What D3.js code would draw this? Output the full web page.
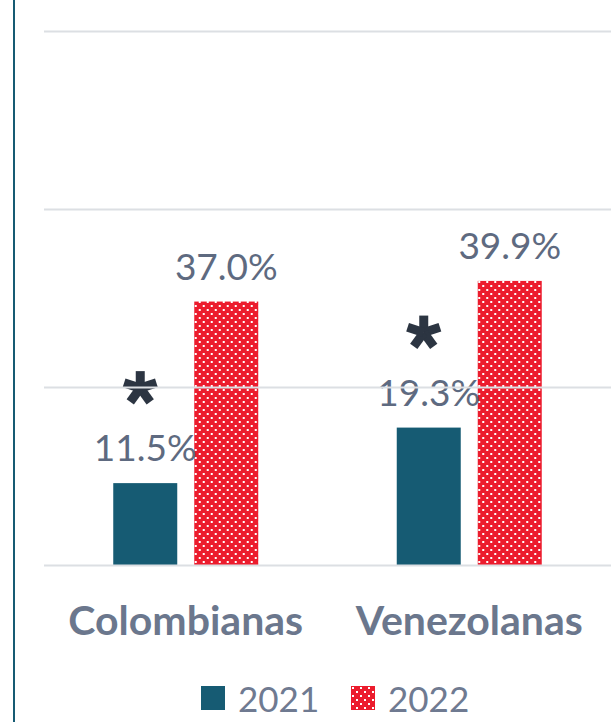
<!DOCTYPE html>
<head>
  <meta charset="utf-8">
  <script src="https://cdn.jsdelivr.net/npm/d3@7"></script>
  <style>
    body { margin: 0; background: #fff; }
    text { font-family: Lato, "Noto Sans", sans-serif; }
  </style>
</head>
<body>
  <script>
    var categories = ["Colombianas", "Venezolanas"];
    var years = ["2021", "2022"];
    var values2021 = [11.5, 19.3];
    var values2022 = [37.0, 39.9];
    var starred = [true, true]; // significance mark over 2021
    var gridTicks = [0, 25, 50, 75];

    var width = 611, height = 722;
    var margin = {top: 31, right: 0, bottom: 157, left: 44};

    var teal = "#165b73", red = "#ec1c2d";

    var svg = d3.select("body").append("svg")
      .attr("width", width)
      .attr("height", height);

    var defs = svg.append("defs");
    var pat = defs.append("pattern")
      .attr("id", "dots")
      .attr("patternUnits", "userSpaceOnUse")
      .attr("width", 8).attr("height", 8);
    pat.append("rect").attr("width", 8).attr("height", 8).attr("fill", red);
    pat.append("rect").attr("x", 1).attr("y", 1).attr("width", 2).attr("height", 2).attr("fill", "#fff");
    pat.append("rect").attr("x", 5).attr("y", 5).attr("width", 2).attr("height", 2).attr("fill", "#fff");

    var data = categories.map(function(c, i) {
      return {cat: c, star: starred[i], vals: [
        {year: years[0], v: values2021[i]},
        {year: years[1], v: values2022[i]}
      ]};
    });

    var x0 = d3.scaleBand()
      .domain(categories)
      .range([margin.left, width - margin.right]);

    var x1 = d3.scaleBand()
      .domain(years)
      .range([-72.5, 72.5])
      .paddingInner(0.21);

    var y = d3.scaleLinear()
      .domain([0, 75])
      .range([height - margin.bottom, margin.top]);

    // left rule
    svg.append("line")
      .attr("x1", 14).attr("x2", 14)
      .attr("y1", 0).attr("y2", height)
      .attr("stroke", teal).attr("stroke-width", 2);

    var fill = function(yr) { return yr === years[0] ? teal : "url(#dots)"; };

    var g = svg.selectAll("g.cat").data(data)
      .enter().append("g")
        .attr("class", "cat")
        .attr("transform", function(d) { return "translate(" + (x0(d.cat) + x0.bandwidth() / 2) + ",0)"; });

    g.selectAll("rect").data(function(d) { return d.vals; })
      .enter().append("rect")
        .attr("x", function(d) { return x1(d.year); })
        .attr("y", function(d) { return y(d.v); })
        .attr("width", x1.bandwidth())
        .attr("height", function(d) { return y(0) - y(d.v); })
        .attr("fill", function(d) { return fill(d.year); });

    // gridlines (no axis labels)
    svg.append("g")
      .attr("transform", "translate(" + margin.left + ",0)")
      .call(d3.axisLeft(y).tickValues(gridTicks).tickSize(-(width - margin.left)).tickFormat(""))
      .call(function(a) {
        a.select(".domain").remove();
        a.selectAll(".tick line").attr("stroke", "#dcdfe3").attr("stroke-width", 2);
      });

    g.selectAll("text.val").data(function(d) { return d.vals; })
      .enter().append("text")
        .attr("class", "val")
        .attr("x", function(d) { return x1(d.year) + x1.bandwidth() / 2; })
        .attr("y", function(d) { return y(d.v) - 22; })
        .attr("text-anchor", "middle")
        .attr("font-size", 37)
        .attr("fill", "#5e6a80")
        .text(function(d) { return d.v.toFixed(1) + "%"; });

    // asterisk
    var arm = 17;
    g.filter(function(d) { return d.star; })
      .append("g")
        .attr("transform", function(d) {
          return "translate(" + (x1(years[0]) + x1.bandwidth() / 2 - 5) + "," + (y(d.vals[0].v) - 22 - 73) + ")";
        })
      .selectAll("line").data(d3.range(5))
      .enter().append("line")
        .attr("x1", 0).attr("y1", 0)
        .attr("x2", function(i) { return arm * Math.sin(i * 2 * Math.PI / 5); })
        .attr("y2", function(i) { return -arm * Math.cos(i * 2 * Math.PI / 5); })
        .attr("stroke", "#2c3542")
        .attr("stroke-width", 9);

    // category labels
    svg.append("g").selectAll("text").data(categories)
      .enter().append("text")
        .attr("x", function(d) { return x0(d) + x0.bandwidth() / 2; })
        .attr("y", 635)
        .attr("text-anchor", "middle")
        .attr("font-size", 41)
        .attr("font-weight", "bold")
        .attr("fill", "#6b778d")
        .text(function(d) { return d; });

    // legend
    var legX = [201, 351];
    var leg = svg.append("g").selectAll("g").data(years)
      .enter().append("g")
        .attr("transform", function(d, i) { return "translate(" + legX[i] + ",686)"; });
    leg.append("rect")
      .attr("width", 24).attr("height", 24)
      .attr("fill", function(d) { return fill(d); });
    leg.append("text")
      .attr("x", 37).attr("y", 26)
      .attr("font-size", 35)
      .attr("fill", "#6f7a91")
      .text(function(d) { return d; });
  </script>
</body>
